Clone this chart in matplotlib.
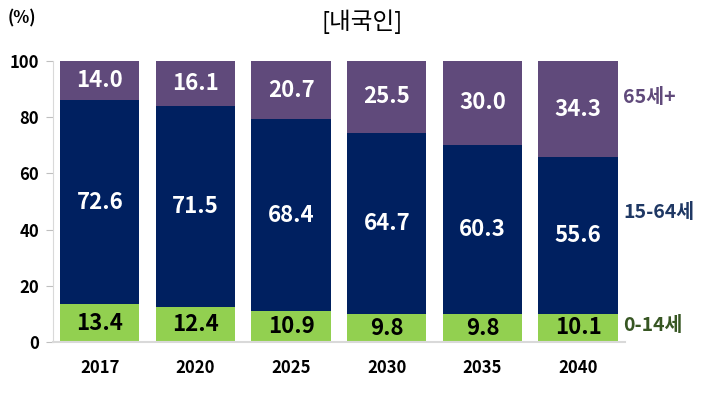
import matplotlib
matplotlib.use("Agg")
import matplotlib.pyplot as plt
import numpy as np

plt.rcParams['font.family'] = ['Noto Sans CJK KR', 'DejaVu Sans']

years = ['2017', '2020', '2025', '2030', '2035', '2040']
age_0_14 = [13.4, 12.4, 10.9, 9.8, 9.8, 10.1]
age_15_64 = [72.6, 71.5, 68.4, 64.7, 60.3, 55.6]
age_65 = [14.0, 16.1, 20.7, 25.5, 30.0, 34.3]
series_names = ['0-14세', '15-64세', '65세+']
title = '[내국인]'

c_green = '#92D050'
c_navy = '#002060'
c_purple = '#604A7B'

fig = plt.figure(figsize=(7.25, 3.99), dpi=100)
ax = fig.add_axes([0.073, 0.143, 0.789, 0.704])

x = np.arange(len(years))
w = 0.83
ax.bar(x, age_0_14, w, color=c_green)
ax.bar(x, age_15_64, w, bottom=age_0_14, color=c_navy)
bottom3 = np.array(age_0_14) + np.array(age_15_64)
ax.bar(x, age_65, w, bottom=bottom3, color=c_purple)

fs = 16
for i in range(len(years)):
    ax.text(x[i], age_0_14[i] / 2, f'{age_0_14[i]:.1f}', ha='center', va='center',
            color='black', fontsize=fs, fontweight='bold')
    ax.text(x[i], age_0_14[i] + age_15_64[i] / 2, f'{age_15_64[i]:.1f}', ha='center',
            va='center', color='white', fontsize=fs, fontweight='bold')
    ax.text(x[i], bottom3[i] + age_65[i] / 2, f'{age_65[i]:.1f}', ha='center',
            va='center', color='white', fontsize=fs, fontweight='bold')

ax.set_xlim(-0.49, 5.49)
ax.set_ylim(0, 100)
ax.set_yticks([0, 20, 40, 60, 80, 100])
ax.set_xticks(x)
ax.set_xticklabels(years)
for lbl in ax.get_xticklabels() + ax.get_yticklabels():
    lbl.set_fontweight('bold')
    lbl.set_fontsize(12)
ax.tick_params(axis='x', length=0, pad=12)
ax.tick_params(axis='y', length=5, color='#BFBFBF', pad=5)
for s in ['top', 'right']:
    ax.spines[s].set_visible(False)
ax.spines['left'].set_color('#D9D9D9')
ax.spines['bottom'].set_color('#D9D9D9')
ax.spines['bottom'].set_linewidth(1.5)

ax.text(5.47, 6, series_names[0], color='#375623', fontsize=14, va='center', ha='left', fontweight='bold')
ax.text(5.47, 46, series_names[1], color='#1F3864', fontsize=14, va='center', ha='left', fontweight='bold')
ax.text(5.47, 87, series_names[2], color=c_purple, fontsize=14, va='center', ha='left', fontweight='bold')

fig.text(362 / 725, 1 - 22 / 399, title, ha='center', va='center', fontsize=17)
fig.text(22 / 725, 1 - 18 / 399, '(%)', ha='center', va='center', fontsize=12, fontweight='bold')

fig.savefig('out.png', dpi=100)
